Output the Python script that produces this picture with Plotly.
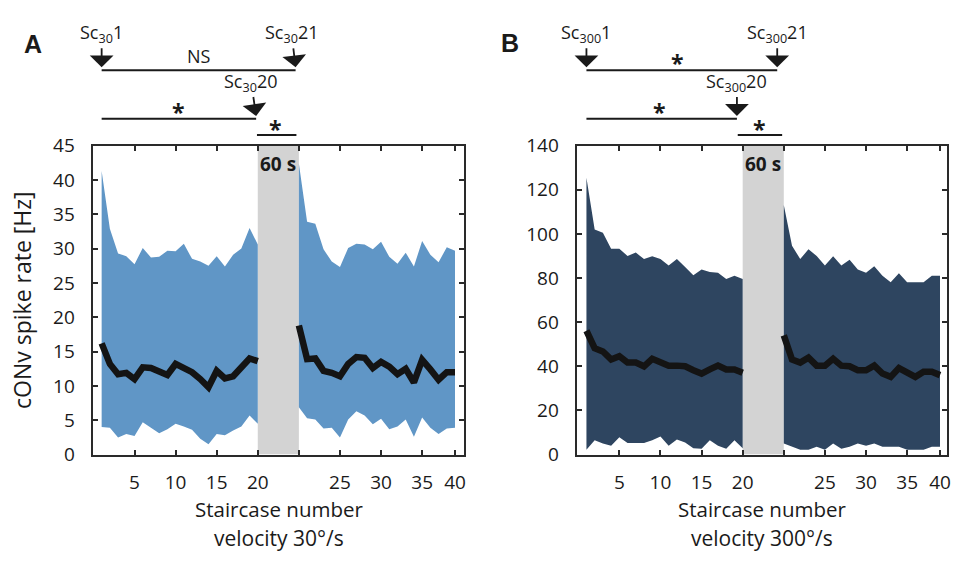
import plotly.graph_objects as go

# ---------------- data ----------------
staircase = list(range(1, 41))

a_upper = [41.3, 32.9, 29.3, 28.9, 27.7, 30.1, 28.7, 28.8, 29.7, 29.6,
           30.7, 28.5, 28.1, 27.5, 28.9, 27.4, 29.1, 30.0, 33.0, 30.6,
           42.4, 33.9, 33.6, 29.9, 28.1, 27.3, 30.1, 30.7, 30.6, 29.9,
           31.0, 28.8, 27.8, 29.4, 27.4, 31.1, 29.1, 28.0, 30.2, 29.7]
a_lower = [4.0, 3.9, 2.5, 3.0, 2.7, 4.7, 3.9, 3.1, 3.7, 4.5,
           4.1, 3.6, 2.3, 1.5, 3.0, 2.8, 3.5, 4.1, 5.7, 4.5,
           6.9, 5.3, 5.1, 3.8, 3.9, 2.5, 5.1, 6.3, 5.7, 4.4,
           5.2, 3.7, 4.1, 5.1, 2.6, 5.4, 3.9, 3.0, 3.8, 3.9]
a_mean = [16.2, 13.2, 11.7, 11.9, 11.0, 12.7, 12.6, 12.2, 11.6, 13.2,
          12.6, 12.0, 11.0, 9.8, 12.2, 11.1, 11.4, 12.7, 14.0, 13.6,
          18.8, 13.9, 14.0, 12.2, 11.9, 11.4, 13.2, 14.2, 14.1, 12.6,
          13.5, 12.8, 11.7, 12.5, 10.5, 13.8, 12.4, 10.9, 12.0, 12.0]

b_upper = [125.4, 102.0, 100.5, 93.3, 93.2, 90.0, 91.5, 88.6, 89.9, 88.6,
           85.7, 88.6, 85.0, 81.2, 83.8, 82.7, 82.4, 79.5, 81.0, 79.5,
           113.1, 94.6, 88.6, 93.0, 90.0, 85.7, 89.8, 85.7, 88.3, 83.8,
           82.4, 85.3, 81.0, 78.1, 82.1, 78.1, 78.1, 78.1, 81.0, 81.0]
b_lower = [2.2, 6.5, 5.0, 4.0, 7.9, 5.3, 5.3, 5.3, 6.5, 8.2,
           4.0, 6.8, 5.5, 2.9, 2.6, 6.5, 4.0, 2.6, 6.5, 2.9,
           5.0, 3.6, 2.2, 2.2, 3.6, 2.2, 5.0, 2.6, 3.6, 5.0,
           4.0, 5.0, 3.6, 3.6, 3.6, 2.2, 2.2, 2.2, 3.6, 3.6]
b_mean = [56.1, 48.2, 46.7, 43.1, 44.6, 41.7, 41.7, 40.0, 43.4, 41.7,
          40.3, 40.3, 40.0, 38.2, 36.7, 38.6, 40.3, 38.6, 38.6, 37.1,
          54.0, 43.1, 41.7, 43.9, 40.3, 40.3, 43.4, 40.3, 40.0, 38.2,
          38.2, 40.3, 36.7, 35.2, 39.2, 37.1, 35.2, 37.5, 37.5, 36.0]

x_tick_pos = [5, 10, 15, 20, 25, 30, 35, 40, 44]
x_tick_text = ["5", "10", "15", "20", " ", "25", "30", "35", "40"]
a_yticks = [0, 5, 10, 15, 20, 25, 30, 35, 40, 45]
b_yticks = [0, 20, 40, 60, 80, 100, 120, 140]

PAUSE = 4  # the 60 s pause occupies the axis between staircase 20 and 21


def pos(k):
    return k if k <= 20 else k + PAUSE


FONT = "Open Sans"
A_FILL = "#6096c6"
B_FILL = "#2e4560"
GRAY = "#d3d3d3"
LINE = "#141414"
TXT = "#1a1a1a"

fig = go.Figure()


def add_panel(xa, ya, upper, lower, mean, fill):
    for seg in (range(0, 20), range(20, 40)):
        xs = [pos(staircase[i]) for i in seg]
        fig.add_trace(go.Scatter(x=xs, y=[lower[i] for i in seg], mode="lines",
                                 line=dict(width=0, color=fill), xaxis=xa, yaxis=ya,
                                 showlegend=False, hoverinfo="skip"))
        fig.add_trace(go.Scatter(x=xs, y=[upper[i] for i in seg], mode="lines",
                                 line=dict(width=0, color=fill), fill="tonexty",
                                 fillcolor=fill, xaxis=xa, yaxis=ya,
                                 showlegend=False, hoverinfo="skip"))
    for seg in (range(0, 20), range(20, 40)):
        xs = [pos(staircase[i]) for i in seg]
        fig.add_trace(go.Scatter(x=xs, y=[mean[i] for i in seg], mode="lines",
                                 line=dict(width=6.5, color=LINE), xaxis=xa, yaxis=ya,
                                 showlegend=False))


add_panel("x", "y", a_upper, a_lower, a_mean, A_FILL)
add_panel("x2", "y2", b_upper, b_lower, b_mean, B_FILL)

H = 562.0


def py(pix):
    return (H - pix) / H


axis_common = dict(showline=True, linecolor="#2a2a2a", linewidth=2, mirror="ticks",
                   ticks="inside", ticklen=5, tickwidth=2, tickcolor="#2a2a2a",
                   showgrid=False, zeroline=False,
                   tickfont=dict(family=FONT, size=19, color=TXT))

ydom = [py(463), py(139)]
fig.update_layout(
    width=955, height=562,
    margin=dict(l=0, r=0, t=0, b=0),
    paper_bgcolor="white", plot_bgcolor="white",
    xaxis=dict(domain=[93 / 955, 466 / 955], range=[-0.1, 45.1], anchor="y",
               tickvals=x_tick_pos, ticktext=x_tick_text, ticklabelstandoff=10, **axis_common),
    yaxis=dict(domain=ydom, range=[0, 45], anchor="x", tickvals=a_yticks,
               ticklabelstandoff=12, **axis_common),
    xaxis2=dict(domain=[579 / 955, 951 / 955], range=[-0.2, 44.85], anchor="y2",
                tickvals=x_tick_pos, ticktext=x_tick_text, ticklabelstandoff=10, **axis_common),
    yaxis2=dict(domain=ydom, range=[0, 140], anchor="x2", tickvals=b_yticks,
                ticklabelstandoff=12, **axis_common),
)

shapes = []
annotations = []


def label(xr, x, ypix, text, size=17, family=FONT, angle=0):
    annotations.append(dict(xref=xr, yref="paper", x=x, y=py(ypix), text=text, showarrow=False,
                            xanchor="center", yanchor="middle", textangle=angle,
                            font=dict(family=family, size=size, color=TXT)))


for xr, yr, top in (("x", "y", 45), ("x2", "y2", 140)):
    shapes.append(dict(type="rect", xref=xr, yref=yr, x0=20, x1=25, y0=0, y1=top,
                       fillcolor=GRAY, line=dict(width=0), layer="below"))
    label(xr, 22.5, 158, "<b>60 s</b>", 19)


def hline(xr, x0, x1, ypix):
    shapes.append(dict(type="line", xref=xr, yref="paper", x0=x0, x1=x1, y0=py(ypix), y1=py(ypix),
                       line=dict(color=TXT, width=2)))


def arrow(xr, x, ytip, text, ax=0):
    annotations.append(dict(xref=xr, yref="paper", x=x, y=py(ytip), text=text, showarrow=True,
                            ax=ax, ay=-34, arrowhead=1, arrowsize=2.2, arrowwidth=1.8,
                            arrowcolor=TXT,
                            font=dict(family=FONT, size=18, color=TXT)))


# Panel A comparisons
arrow("x", 1, 57, "Sc<sub>30</sub>1")
arrow("x", 24.6, 57, "Sc<sub>30</sub>21", ax=-4)
hline("x", 1, 24.6, 60)
label("x", 12.85, 45, "NS", 18)
arrow("x", 19.8, 108, "Sc<sub>30</sub>20", ax=-5)
hline("x", 1, 19.8, 111)
label("x", 10.4, 104, "<b>*</b>", 23)
hline("x", 19.9, 24.7, 128)
label("x", 22.2, 122, "<b>*</b>", 23)

# Panel B comparisons
arrow("x2", 1, 57, "Sc<sub>300</sub>1")
arrow("x2", 24.2, 57, "Sc<sub>300</sub>21")
hline("x2", 1, 24.2, 60)
label("x2", 12.1, 52, "<b>*</b>", 23)
arrow("x2", 19.3, 108, "Sc<sub>300</sub>20")
hline("x2", 1, 19.3, 111)
label("x2", 9.9, 104, "<b>*</b>", 23)
hline("x2", 19.4, 24.8, 128)
label("x2", 22.1, 122, "<b>*</b>", 23)

# Panel letters
label("paper", 33 / 955, 33, "<b>A</b>", 25, "Liberation Sans")
label("paper", 512 / 955, 31, "<b>B</b>", 25, "Liberation Sans")

# Axis titles
label("paper", 22 / 955, 301, "cONv spike rate [Hz]", 23, FONT, -90)
for cx, vel in ((280, "velocity 30°/s"), (765, "velocity 300°/s")):
    label("paper", cx / 955, 520, "Staircase number", 20.5)
    label("paper", cx / 955, 550, vel, 21)

fig.update_layout(shapes=shapes, annotations=annotations)
fig.write_html("out.html")
